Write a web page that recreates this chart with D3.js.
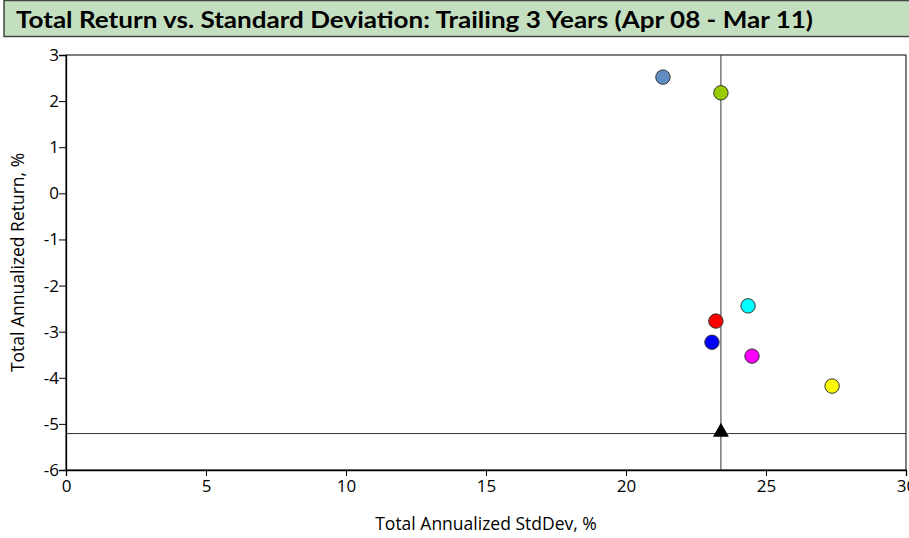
<!DOCTYPE html>
<html><head><meta charset="utf-8">
<script src="https://cdn.jsdelivr.net/npm/d3@7"></script>
<style>body{margin:0;background:#fff;}svg{display:block;font-family:"Open Sans",Lato,sans-serif;}</style>
</head><body>
<script>
const names = ["Fund A","Fund B","Fund C","Fund D","Fund E","Fund F","Fund G"];
const stdDev = [21.32, 23.39, 24.36, 23.21, 23.07, 24.50, 27.36];
const returns = [2.52, 2.18, -2.44, -2.77, -3.23, -3.53, -4.18];
const colors = ["#5f8dc4","#99cc00","#00ffff","#ff0000","#0000ff","#ff00ff","#ffff00"];
const benchmark = {x: 23.39, y: -5.21};
const xTicks = [0,5,10,15,20,25,30];
const yTicks = [3,2,1,0,-1,-2,-3,-4,-5,-6];
const title = "Total Return vs. Standard Deviation: Trailing 3 Years (Apr 08 - Mar 11)";

const W=909,H=538;
const svg=d3.select("body").append("svg").attr("width",W).attr("height",H);
const m={l:66,r:906,t:55,b:470};
const x=d3.scaleLinear().domain([0,30]).range([m.l,m.r]);
const y=d3.scaleLinear().domain([-6,3]).range([m.b,m.t]);

// title
svg.append("rect").attr("x",4).attr("y",0.5).attr("width",910).attr("height",36)
  .attr("fill","#c4dfc0").attr("stroke","#444").attr("stroke-width",1.5);
svg.append("text").attr("x",16).attr("y",28).attr("font-size",23).attr("font-weight","bold")
  .attr("font-family","Lato,sans-serif")
  .attr("textLength",797).attr("lengthAdjust","spacingAndGlyphs").attr("fill","#000").text(title);

// plot border
svg.append("rect").attr("x",m.l).attr("y",m.t).attr("width",m.r-m.l).attr("height",m.b-m.t)
  .attr("fill","none").attr("stroke","#000").attr("stroke-width",1);

// axes
const fmt = d => String(d);
const xa=svg.append("g").attr("transform",`translate(0,${m.b})`)
  .call(d3.axisBottom(x).tickValues(xTicks).tickSize(6).tickPadding(4).tickFormat(fmt));
const ya=svg.append("g").attr("transform",`translate(${m.l},0)`)
  .call(d3.axisLeft(y).tickValues(yTicks).tickSize(7).tickPadding(0).tickFormat(fmt));
[xa,ya].forEach(a=>{a.select(".domain").attr("stroke","#000").attr("stroke-width",1.3);
  a.selectAll(".tick line").attr("stroke","#000");
  a.selectAll("text").attr("font-size",17).attr("fill","#000").attr("font-family","'Open Sans',sans-serif");});

// crosshair
svg.append("line").attr("x1",x(benchmark.x)).attr("x2",x(benchmark.x)).attr("y1",m.t).attr("y2",m.b)
  .attr("stroke","#333").attr("stroke-width",1);
svg.append("line").attr("x1",m.l).attr("x2",m.r).attr("y1",y(benchmark.y)).attr("y2",y(benchmark.y))
  .attr("stroke","#333").attr("stroke-width",1);

// points
svg.selectAll("circle.pt").data(names).enter().append("circle").attr("class","pt")
  .attr("cx",(d,i)=>x(stdDev[i])).attr("cy",(d,i)=>y(returns[i])).attr("r",7.2)
  .attr("fill",(d,i)=>colors[i]).attr("stroke","#333").attr("stroke-width",1);

// benchmark triangle
svg.append("path").attr("d",d3.symbol().type(d3.symbolTriangle).size(110)())
  .attr("transform",`translate(${x(benchmark.x)},${y(benchmark.y)-1.5})`).attr("fill","#000");

// axis labels
svg.append("text").attr("x",(m.l+m.r)/2).attr("y",530).attr("text-anchor","middle")
  .attr("font-size",17.5).text("Total Annualized StdDev, %");
svg.append("text").attr("transform",`translate(24,${(m.t+m.b)/2}) rotate(-90)`).attr("text-anchor","middle")
  .attr("font-size",17.5).text("Total Annualized Return, %");
</script>
</body></html>
